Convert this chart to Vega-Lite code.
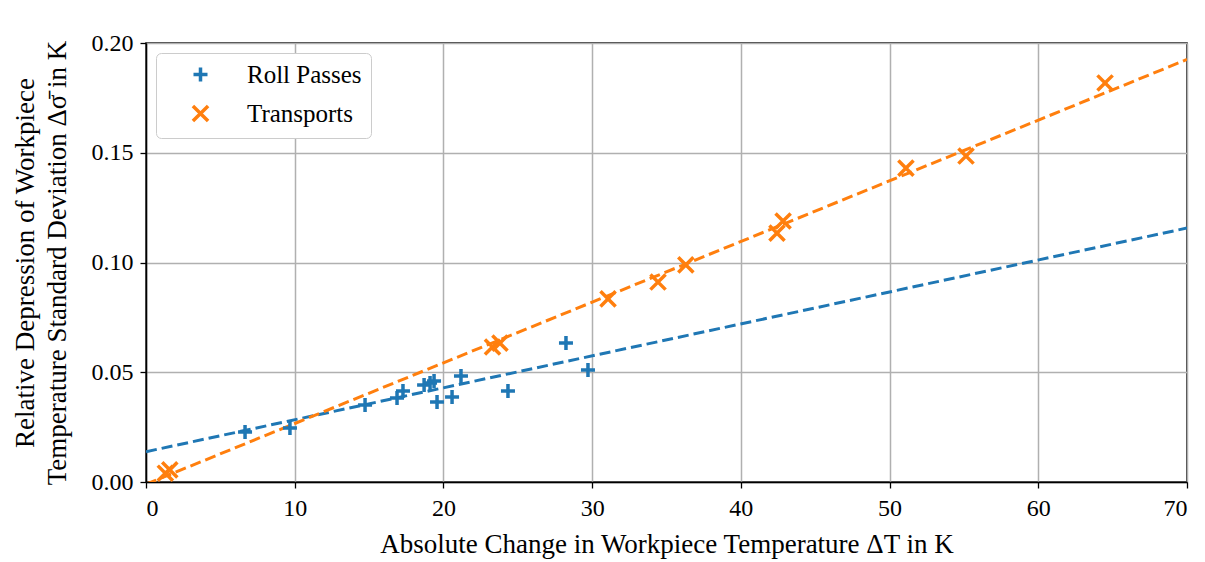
{
  "$schema": "https://vega.github.io/schema/vega-lite/v6.json",
  "autosize": "none",
  "width": 1041,
  "height": 439,
  "padding": {"left": 146, "top": 43, "right": 18, "bottom": 80},
  "background": "white",
  "config": {
    "font": "Liberation Serif",
    "view": {"stroke": "black", "strokeWidth": 1.5},
    "axis": {
      "labelFont": "Liberation Serif",
      "titleFont": "Liberation Serif",
      "labelFontSize": 24,
      "titleFontSize": 27,
      "titleFontWeight": "normal",
      "labelColor": "black",
      "titleColor": "black",
      "tickColor": "black",
      "tickSize": 6,
      "tickWidth": 1.3,
      "domainColor": "black",
      "domainWidth": 1.5,
      "gridColor": "#b0b0b0",
      "gridWidth": 1.5
    },
    "legend": {
      "labelFont": "Liberation Serif",
      "labelFontSize": 25,
      "labelColor": "black"
    }
  },
  "datasets": {
    "pts": [
      {"series": "Roll Passes", "dT": 6.66, "ds": 0.0228},
      {"series": "Roll Passes", "dT": 9.68, "ds": 0.0246},
      {"series": "Roll Passes", "dT": 14.73, "ds": 0.0351},
      {"series": "Roll Passes", "dT": 16.88, "ds": 0.0383},
      {"series": "Roll Passes", "dT": 17.28, "ds": 0.0415},
      {"series": "Roll Passes", "dT": 18.7, "ds": 0.0442},
      {"series": "Roll Passes", "dT": 19.1, "ds": 0.0451},
      {"series": "Roll Passes", "dT": 19.37, "ds": 0.046},
      {"series": "Roll Passes", "dT": 19.57, "ds": 0.0364},
      {"series": "Roll Passes", "dT": 20.58, "ds": 0.0387},
      {"series": "Roll Passes", "dT": 21.18, "ds": 0.0483},
      {"series": "Roll Passes", "dT": 24.34, "ds": 0.0415},
      {"series": "Roll Passes", "dT": 28.24, "ds": 0.0633},
      {"series": "Roll Passes", "dT": 29.72, "ds": 0.051},
      {"series": "Transports", "dT": 1.3, "ds": 0.004},
      {"series": "Transports", "dT": 1.6, "ds": 0.0055},
      {"series": "Transports", "dT": 23.3, "ds": 0.0615},
      {"series": "Transports", "dT": 23.8, "ds": 0.0633},
      {"series": "Transports", "dT": 31.07, "ds": 0.0834},
      {"series": "Transports", "dT": 34.43, "ds": 0.0911},
      {"series": "Transports", "dT": 36.3, "ds": 0.0989},
      {"series": "Transports", "dT": 42.43, "ds": 0.1134},
      {"series": "Transports", "dT": 42.84, "ds": 0.1189},
      {"series": "Transports", "dT": 51.1, "ds": 0.143},
      {"series": "Transports", "dT": 55.14, "ds": 0.1485},
      {"series": "Transports", "dT": 64.49, "ds": 0.1818}
    ],
    "fit": [
      {"series": "Roll Passes", "dT": 0, "ds": 0.0138},
      {"series": "Roll Passes", "dT": 70, "ds": 0.1157},
      {"series": "Transports", "dT": 0, "ds": -0.001},
      {"series": "Transports", "dT": 70, "ds": 0.1925}
    ]
  },
  "layer": [
    {
      "data": {"name": "fit"},
      "transform": [{"filter": "datum.series === 'Roll Passes'"}],
      "mark": {"type": "line", "clip": true, "color": "#1f77b4", "strokeWidth": 3, "strokeDash": [11, 5]},
      "encoding": {
        "x": {"field": "dT", "type": "quantitative"},
        "y": {"field": "ds", "type": "quantitative"}
      }
    },
    {
      "data": {"name": "fit"},
      "transform": [{"filter": "datum.series === 'Transports'"}],
      "mark": {"type": "line", "clip": true, "color": "#ff7f0e", "strokeWidth": 3, "strokeDash": [11, 5]},
      "encoding": {
        "x": {"field": "dT", "type": "quantitative"},
        "y": {"field": "ds", "type": "quantitative"}
      }
    },
    {
      "data": {"name": "pts"},
      "mark": {"type": "point", "filled": false, "strokeWidth": 3.5, "opacity": 1, "clip": true},
      "encoding": {
        "x": {
          "field": "dT", "type": "quantitative",
          "scale": {"domain": [0, 70], "nice": false, "zero": false},
          "axis": {"values": [0, 10, 20, 30, 40, 50, 60, 70], "title": "Absolute Change in Workpiece Temperature ΔT in K", "titlePadding": 11, "labelPadding": 8}
        },
        "y": {
          "field": "ds", "type": "quantitative",
          "scale": {"domain": [0, 0.2], "nice": false, "zero": false},
          "axis": {"values": [0, 0.05, 0.1, 0.15, 0.2], "format": ".2f", "title": ["Relative Depression of Workpiece", "Temperature Standard Deviation Δσ̄ in K"], "titleLineHeight": 32, "titlePadding": 20, "labelPadding": 7}
        },
        "color": {
          "field": "series", "type": "nominal",
          "scale": {"domain": ["Roll Passes", "Transports"], "range": ["#1f77b4", "#ff7f0e"]},
          "legend": {
            "title": null,
            "orient": "top-left",
            "offset": 10,
            "padding": 9,
            "strokeColor": "#cccccc",
            "cornerRadius": 5,
            "fillColor": "white",
            "symbolStrokeWidth": 3.5,
            "symbolSize": 200,
            "symbolOffset": 23,
            "labelOffset": 34,
            "rowPadding": 9
          }
        },
        "shape": {
          "field": "series", "type": "nominal",
          "scale": {"domain": ["Roll Passes", "Transports"], "range": ["M-1,0L1,0M0,-1L0,1", "M-1,-1L1,1M-1,1L1,-1"]}
        },
        "size": {
          "field": "series", "type": "nominal", "legend": null,
          "scale": {"domain": ["Roll Passes", "Transports"], "range": [196, 230]}
        }
      }
    }
  ]
}
